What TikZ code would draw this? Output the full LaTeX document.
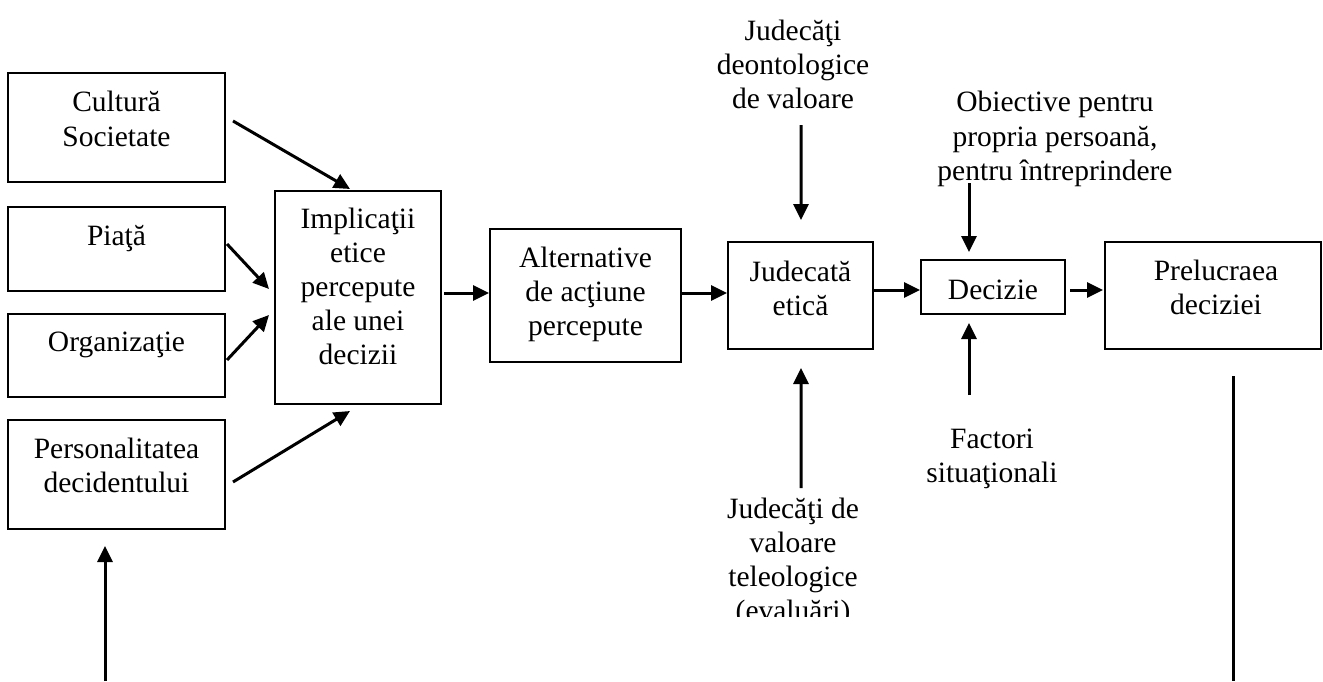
\documentclass[tikz,border=0pt]{standalone}
\usepackage{fontspec}
\setmainfont{Liberation Serif}
\usetikzlibrary{arrows.meta,calc}
\begin{document}
\begin{tikzpicture}[x=1bp,y=-1bp,
  box/.style={draw,line width=2bp,minimum width=#1,inner sep=0pt},
  txt/.style={align=center,inner sep=0pt,anchor=base,font=\fontsize{29.5bp}{34bp}\selectfont},
  arr/.style={line width=3bp,-{Triangle[length=16bp,width=15bp]}},
  ln/.style={line width=3bp}]
\useasboundingbox (0,0) rectangle (1323,681);
% boxes
\node[box=217bp,minimum height=109bp] (cult) at (116.5,127.5) {};
\node[box=217bp,minimum height=84bp] (piata) at (116.5,249) {};
\node[box=217bp,minimum height=83bp] (org) at (116.5,355.5) {};
\node[box=217bp,minimum height=109bp] (pers) at (116.5,474.5) {};
\node[box=166bp,minimum height=213bp] (impl) at (358,297.5) {};
\node[box=191bp,minimum height=133bp] (alt) at (585.5,295.5) {};
\node[box=145bp,minimum height=107bp] (jud) at (800.5,295.5) {};
\node[box=144bp,minimum height=54bp] (dec) at (993,287) {};
\node[box=216bp,minimum height=107bp] (prel) at (1213,295.5) {};
% texts (anchor base = baseline of last line)
\node[txt] (tcult) at (116.5,146) {Cultură\\Societate};
\node[txt] (tpiata) at (116.5,245) {Piaţă};
\node[txt] (torg) at (116.5,351) {Organizaţie};
\node[txt] (tpers) at (116.5,492) {Personalitatea\\decidentului};
\node[txt] (timpl) at (358,364) {Implicaţii\\etice\\percepute\\ale unei\\decizii};
\node[txt] (talt) at (585.5,335) {Alternative\\de acţiune\\percepute};
\node[txt] (tjud) at (800.5,315) {Judecată\\etică};
\node[txt] (tdec) at (993,299) {Decizie};
\node[txt] (tprel) at (1216,314) {Prelucraea\\deciziei};
\node[txt] (deont) at (793,109) {Judecăţi\\deontologice\\de valoare};
\node[txt] (obj) at (1055,180) {Obiective pentru\\propria persoană,\\pentru întreprindere};
\node[txt] (fact) at (992,482) {Factori\\situaţionali};
\begin{scope}
\clip (680,480) rectangle (920,616);
\node[txt] (teleo) at (793,620) {Judecăţi de\\valoare\\teleologice\\(evaluări)};
\end{scope}
% free ends
\coordinate (deontend) at (801,125);
\coordinate (teleoend) at (801,488);
\coordinate (objend) at (969,183);
\coordinate (factend) at (969,395);
\coordinate (bottomL) at (105,681);
\coordinate (bottomR) at (1233,681);
% connectors
\draw[arr] ([shift={(7,-6.5)}]cult.east) -- ([shift={(-8,-1)}]impl.north);
\draw[arr] ([shift={(1,-5)}]piata.east) -- ([shift={(-5,-8.5)}]impl.west);
\draw[arr] ([shift={(1,4.5)}]org.east) -- ([shift={(-5,17.5)}]impl.west);
\draw[arr] ([shift={(7,7.5)}]pers.east) -- ([shift={(-8,6)}]impl.south);
\draw[arr] ([shift={(2,-4.5)}]impl.east) -- ([shift={(0,-2.5)}]alt.west);
\draw[arr] ([shift={(0,-2.5)}]alt.east) -- ([shift={(0,-2.5)}]jud.west);
\draw[arr] ([shift={(0,-5.5)}]jud.east) -- ([shift={(0,3)}]dec.west);
\draw[arr] ([shift={(4,3)}]dec.east) -- ([shift={(-1,-5.5)}]prel.west);
\draw[arr] (deontend) -- ([shift={(0.5,-21)}]jud.north);
\draw[arr] (teleoend) -- ([shift={(0.5,18)}]jud.south);
\draw[arr] (objend) -- ([shift={(-24,-7)}]dec.north);
\draw[arr] (factend) -- ([shift={(-24,8)}]dec.south);
\draw[arr] (bottomL) -- ([shift={(-11.5,16)}]pers.south);
\draw[ln] ([shift={(20,26)}]prel.south) -- (bottomR);
\end{tikzpicture}
\end{document}
